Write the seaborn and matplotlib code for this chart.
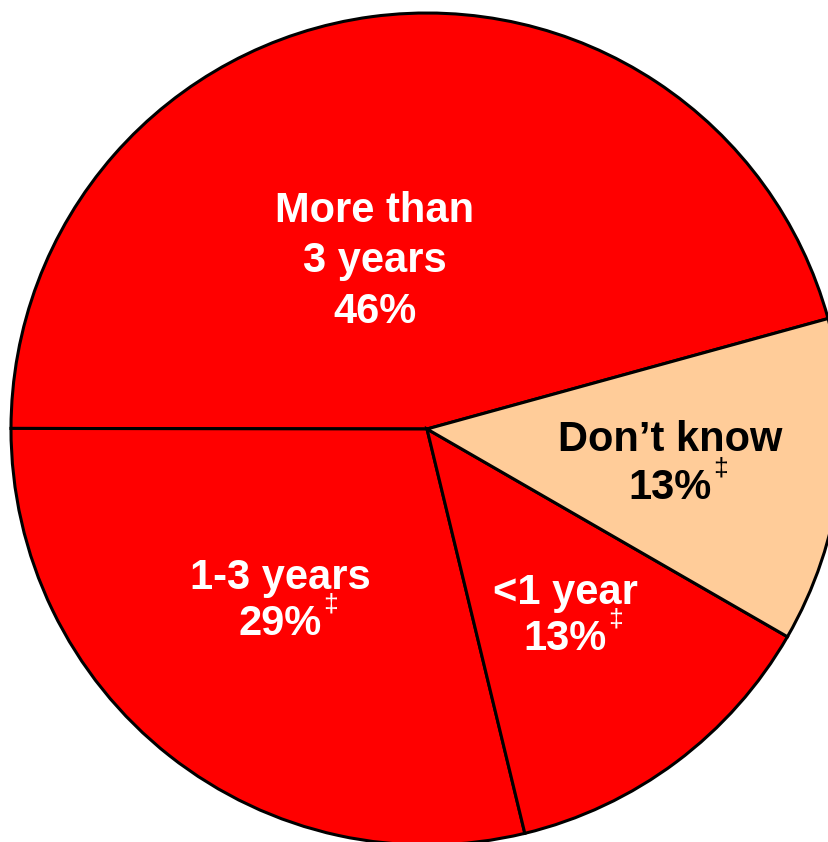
import matplotlib
matplotlib.use("Agg")
import matplotlib.pyplot as plt
import seaborn as sns

# slice order: counterclockwise from the top-right boundary
categories = ["More than\n3 years", "1-3 years", "<1 year", "Don\u2019t know"]
shares = [45.7, 28.8, 12.9, 12.6]
pct_labels = ["46%", "29%", "13%", "13%"]
dagger = [False, True, True, True]
colors = ["#FF0000", "#FF0000", "#FF0000", "#FFCC99"]
text_colors = ["white", "white", "white", "black"]

sns.set_theme(style="white")
plt.rcParams["font.family"] = ["Liberation Sans", "DejaVu Sans"]

W, H = 829, 842
fig = plt.figure(figsize=(W / 100, H / 100), dpi=100)
ax = fig.add_axes([0, 0, 1, 1])

cx, cy, r = 427, 429, 416
ax.pie(shares, colors=colors, startangle=15.4, counterclock=True,
       radius=1.0, wedgeprops=dict(edgecolor="black", linewidth=2.2))

ax.set_xlim(-cx / r, (W - cx) / r)
ax.set_ylim(-(H - cy) / r, cy / r)
ax.set_aspect("equal")
ax.axis("off")

# label centres (pixel positions): name block, percent line
name_px = [(375, 236), (280, 578), (565, 593), (670, 440)]
pct_px = [(375, 312), (280, 624), (565, 639), (670, 488)]

def to_data(px, py):
    return (px - cx) / r, (cy - py) / r

for name, pct, dg, tc, npos, ppos in zip(categories, pct_labels, dagger,
                                         text_colors, name_px, pct_px):
    ax.text(*to_data(*npos), name, ha="center", va="center", color=tc,
            fontsize=30, fontweight="bold", linespacing=1.35)
    pt = ax.text(*to_data(*ppos), pct, ha="center", va="center", color=tc,
                 fontsize=30, fontweight="bold")
    if dg:
        ax.annotate("\u2021", xy=(1, 1), xycoords=pt,
                    xytext=(1, -9), textcoords="offset points",
                    color=tc, fontsize=19, ha="left", va="bottom")

fig.savefig("out.png", dpi=100)
